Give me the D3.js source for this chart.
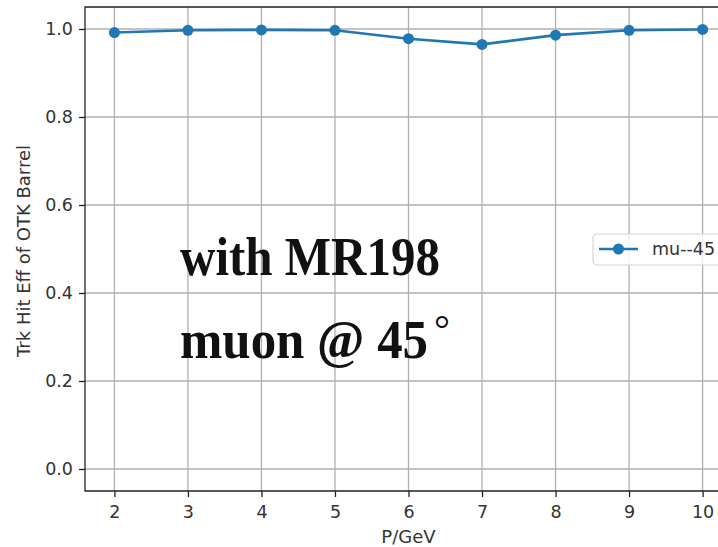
<!DOCTYPE html>
<html>
<head>
<meta charset="utf-8">
<script src="https://cdn.jsdelivr.net/npm/d3@7"></script>
<style>
  body { margin: 0; background: #fff; }
</style>
</head>
<body>
<svg id="chart"></svg>
<script>
// momentum points and track hit efficiency
const momentum = [2, 3, 4, 5, 6, 7, 8, 9, 10];
const efficiency = [0.992, 0.997, 0.998, 0.997, 0.978, 0.965, 0.986, 0.997, 0.999];
const yTicks = [0.0, 0.2, 0.4, 0.6, 0.8, 1.0];
const seriesName = "mu--45";

const width = 718, height = 547;
const color = "#1f77b4";
const sans = "'DejaVu Sans', sans-serif";

const svg = d3.select("#chart")
    .attr("width", width)
    .attr("height", height);

// plot area (right side is cut off in the original image)
const pLeft = 85, pRight = 732, pTop = 7, pBottom = 491;

const x = d3.scaleLinear().domain([1.6, 10.4]).range([pLeft, pRight]);
const y = d3.scaleLinear().domain([-0.05, 1.05]).range([pBottom, pTop]);

// grid
svg.append("g")
    .selectAll("line")
    .data(momentum)
    .join("line")
    .attr("x1", d => x(d)).attr("x2", d => x(d))
    .attr("y1", pTop).attr("y2", pBottom)
    .attr("stroke", "#b0b0b0").attr("stroke-width", 1.3);

svg.append("g")
    .selectAll("line")
    .data(yTicks)
    .join("line")
    .attr("x1", pLeft).attr("x2", pRight)
    .attr("y1", d => y(d)).attr("y2", d => y(d))
    .attr("stroke", "#b0b0b0").attr("stroke-width", 1.3);

// axes
const xAxis = svg.append("g")
    .attr("transform", `translate(0,${pBottom})`)
    .call(d3.axisBottom(x).tickValues(momentum).tickSize(6).tickPadding(8).tickFormat(d3.format("d")));
const yAxis = svg.append("g")
    .attr("transform", `translate(${pLeft},0)`)
    .call(d3.axisLeft(y).tickValues(yTicks).tickSize(6).tickPadding(6).tickFormat(d3.format(".1f")));

[xAxis, yAxis].forEach(g => {
  g.select(".domain").remove();
  g.selectAll(".tick line").attr("stroke", "#222").attr("stroke-width", 1.3);
  g.selectAll(".tick text").attr("fill", "#333")
      .attr("font-size", 17.5).attr("font-family", sans);
});
xAxis.selectAll(".tick text").attr("dy", "0.75em");

// spines
svg.append("path")
    .attr("d", `M${pRight},${pTop}H${pLeft}V${pBottom}H${pRight}`)
    .attr("fill", "none").attr("stroke", "#222").attr("stroke-width", 1.3);

// line + markers
const line = d3.line()
    .x((d, i) => x(momentum[i]))
    .y(d => y(d));

svg.append("path")
    .datum(efficiency)
    .attr("d", line)
    .attr("fill", "none")
    .attr("stroke", color)
    .attr("stroke-width", 2.6);

svg.append("g")
    .selectAll("circle")
    .data(efficiency)
    .join("circle")
    .attr("cx", (d, i) => x(momentum[i]))
    .attr("cy", d => y(d))
    .attr("r", 5.5)
    .attr("fill", color);

// axis labels
svg.append("text")
    .attr("x", (pLeft + pRight) / 2).attr("y", 543)
    .attr("text-anchor", "middle")
    .attr("fill", "#333")
    .attr("font-family", sans).attr("font-size", 18)
    .text("P/GeV");

svg.append("text")
    .attr("transform", `translate(30,${(pTop + pBottom) / 2 + 2}) rotate(-90)`)
    .attr("text-anchor", "middle")
    .attr("fill", "#333")
    .attr("font-family", sans).attr("font-size", 18)
    .text("Trk Hit Eff of OTK Barrel");

// legend
const lg = svg.append("g").attr("transform", "translate(593,234)");
lg.append("rect")
    .attr("width", 140).attr("height", 31)
    .attr("rx", 4)
    .attr("fill", "#fff").attr("fill-opacity", 0.8)
    .attr("stroke", "#d6d6d6").attr("stroke-width", 1.2);
lg.append("line")
    .attr("x1", 6).attr("x2", 45).attr("y1", 15).attr("y2", 15)
    .attr("stroke", color).attr("stroke-width", 2.6);
lg.append("circle")
    .attr("cx", 25.5).attr("cy", 15).attr("r", 5.5).attr("fill", color);
lg.append("text")
    .attr("x", 59).attr("y", 21)
    .attr("fill", "#333")
    .attr("font-family", sans).attr("font-size", 17.5)
    .text(seriesName);

// annotation pasted on the figure
const serif = "'Liberation Serif', serif";
svg.append("text")
    .attr("x", 180).attr("y", 275)
    .attr("font-family", serif).attr("font-size", 54).attr("font-weight", "bold")
    .attr("fill", "#111")
    .attr("textLength", 260).attr("lengthAdjust", "spacingAndGlyphs")
    .text("with MR198");
const t2 = svg.append("text")
    .attr("x", 180).attr("y", 358)
    .attr("font-family", serif).attr("font-size", 54).attr("font-weight", "bold")
    .attr("fill", "#111");
t2.append("tspan")
    .attr("textLength", 248).attr("lengthAdjust", "spacingAndGlyphs")
    .text("muon @ 45");
t2.append("tspan").attr("x", 434).attr("dy", -15)
    .attr("font-size", 40).attr("font-weight", "normal").text("°");
</script>
</body>
</html>
